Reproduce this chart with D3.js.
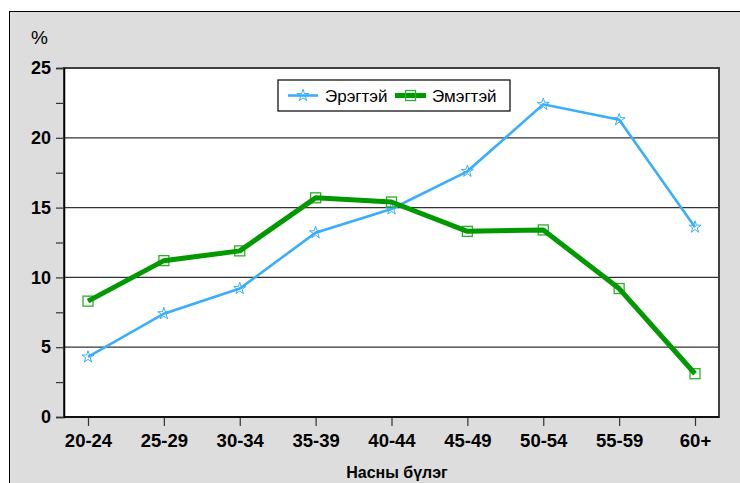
<!DOCTYPE html>
<html><head><meta charset="utf-8">
<script src="https://cdn.jsdelivr.net/npm/d3@7"></script>
<style>
html,body{margin:0;padding:0;background:#fff;}
svg{display:block;font-family:"Liberation Sans",Arial,sans-serif;}
</style></head>
<body>
<svg id="c" width="740" height="483"></svg>
<script>
const categories = ["20-24","25-29","30-34","35-39","40-44","45-49","50-54","55-59","60+"];
const male = [4.3, 7.4, 9.2, 13.2, 14.9, 17.6, 22.4, 21.3, 13.6];
const female = [8.3, 11.2, 11.9, 15.7, 15.4, 13.3, 13.4, 9.2, 3.1];
const yTicks = [0, 5, 10, 15, 20, 25];
const seriesNames = ["Эрэгтэй", "Эмэгтэй"];
const yLabel = "%";
const xLabel = "Насны бүлэг";

const svg = d3.select("#c");
// panel
svg.append("rect").attr("x",9.5).attr("y",11.5).attr("width",740).attr("height",480)
  .attr("fill","#dddddd").attr("stroke","#000").attr("stroke-width",1);

const L=64, R=719, T=68, B=417;
const x = d3.scalePoint().domain(categories).range([88,695]);
const y = d3.scaleLinear().domain([0,25]).range([B,T]);

svg.append("rect").attr("x",L).attr("y",T).attr("width",R-L).attr("height",B-T).attr("fill","#fff");

// gridlines
svg.append("g").selectAll("line").data(yTicks.filter(d=>d>0&&d<25)).join("line")
  .attr("x1",L).attr("x2",R).attr("y1",d=>y(d)).attr("y2",d=>y(d))
  .attr("stroke","#333").attr("stroke-width",1.3);

// frame
svg.append("rect").attr("x",L).attr("y",T).attr("width",R-L).attr("height",B-T)
  .attr("fill","none").attr("stroke","#404040").attr("stroke-width",2);

// y axis
const yAxis = d3.axisLeft(y).tickValues(d3.range(0,25.1,2.5)).tickSize(8).tickPadding(5)
  .tickFormat(d=> Number.isInteger(d)? d : "");
const gy = svg.append("g").attr("transform",`translate(${L},0)`).call(yAxis);
gy.select(".domain").attr("stroke","#000").attr("stroke-width",1.5);
gy.selectAll(".tick line").attr("stroke","#333").attr("stroke-width",1.2);
gy.selectAll(".tick text").attr("font-size",18).attr("font-weight","bold").attr("fill","#000")
  .attr("font-family","Liberation Sans, Arial, sans-serif");

// x axis
const xAxis = d3.axisBottom(x).tickSize(9).tickPadding(8);
const gx = svg.append("g").attr("transform",`translate(0,${B})`).call(xAxis);
gx.select(".domain").remove();
gx.selectAll(".tick line").attr("stroke","#333").attr("stroke-width",1.2);
gx.selectAll(".tick text").attr("font-size",18.5).attr("font-weight","bold").attr("fill","#000")
  .attr("font-family","Liberation Sans, Arial, sans-serif");
svg.append("line").attr("x1",L).attr("x2",R).attr("y1",B).attr("y2",B).attr("stroke","#000").attr("stroke-width",1.5);

// labels
svg.append("text").attr("x",31).attr("y",44).attr("font-size",19).attr("fill","#000").text(yLabel);
svg.append("text").attr("x",397).attr("y",478).attr("text-anchor","middle")
  .attr("font-size",16).attr("font-weight","bold").attr("fill","#000").text(xLabel);

const line = d3.line().x((d,i)=>x(categories[i])).y(d=>y(d));
const blue = "#3aaefc", green = "#009a00", greenMk = "#2eae2e";

const star = d3.symbol().type(d3.symbolStar).size(45);
function drawStars(g, data, cx, cy){
  g.selectAll("path.mk").data(data).join("path").attr("class","mk")
   .attr("d",star).attr("transform",(d,i)=>`translate(${cx?cx:x(categories[i])},${cy?cy:y(d)})`)
   .attr("fill","none").attr("stroke",blue).attr("stroke-width",1);
}

// male series
svg.append("path").datum(male).attr("d",line).attr("fill","none").attr("stroke",blue).attr("stroke-width",2.6);
drawStars(svg.append("g"), male);

// female series
const gf = svg.append("g");
gf.selectAll("rect").data(female).join("rect")
  .attr("x",(d,i)=>x(categories[i])-5).attr("y",d=>y(d)-5).attr("width",10).attr("height",10)
  .attr("fill","none").attr("stroke",greenMk).attr("stroke-width",1.3);
gf.append("path").datum(female).attr("d",line).attr("fill","none").attr("stroke",green)
  .attr("stroke-width",5).attr("stroke-linejoin","round");

// legend
const lg = svg.append("g");
lg.append("rect").attr("x",278).attr("y",80).attr("width",232).attr("height",31)
  .attr("fill","#fff").attr("stroke","#000").attr("stroke-width",1.2);
lg.append("line").attr("x1",288).attr("x2",318).attr("y1",95.5).attr("y2",95.5).attr("stroke",blue).attr("stroke-width",2.6);
lg.append("path").attr("d",star).attr("transform","translate(303,95.5)").attr("fill","none").attr("stroke",blue).attr("stroke-width",1);
lg.append("text").attr("x",325).attr("y",102).attr("font-size",17).attr("fill","#000").text(seriesNames[0]);
lg.append("line").attr("x1",395).attr("x2",426).attr("y1",95.5).attr("y2",95.5).attr("stroke",green).attr("stroke-width",5);
lg.append("rect").attr("x",405.5).attr("y",90.5).attr("width",10).attr("height",10).attr("fill","none").attr("stroke",greenMk).attr("stroke-width",1.3);
lg.append("text").attr("x",432).attr("y",102).attr("font-size",17).attr("fill","#000").text(seriesNames[1]);
</script>
</body></html>
